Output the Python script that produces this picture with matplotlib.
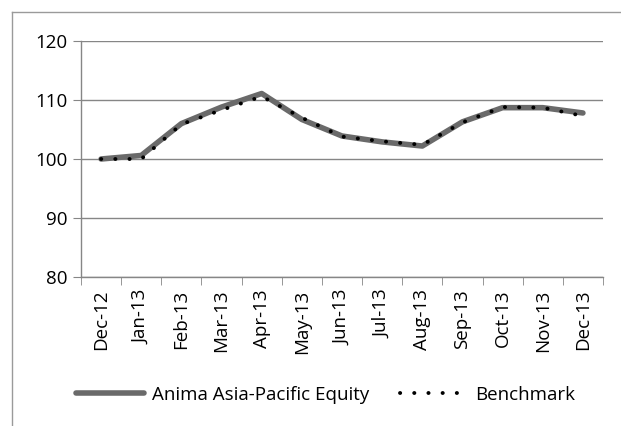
import numpy as np
import matplotlib
matplotlib.use('Agg')
from matplotlib import pyplot as plt
from matplotlib.lines import Line2D

months = ['Dec-12', 'Jan-13', 'Feb-13', 'Mar-13', 'Apr-13', 'May-13', 'Jun-13',
          'Jul-13', 'Aug-13', 'Sep-13', 'Oct-13', 'Nov-13', 'Dec-13']
fund = [100.0, 100.6, 106.0, 108.8, 111.1, 106.7, 103.9,
        102.9, 102.2, 106.3, 108.7, 108.7, 107.8]
benchmark = [100.0, 100.0, 105.9, 108.3, 110.6, 107.0, 103.8,
             103.0, 102.4, 106.2, 108.8, 108.7, 107.3]

plt.rcParams['font.family'] = ['Open Sans', 'DejaVu Sans']

fig = plt.figure(figsize=(6.21, 4.26), dpi=100)
ax = fig.add_axes([81 / 621, 1 - 277 / 426, 522 / 621, 236 / 426])

x = np.arange(len(months))
ax.plot(x, fund, color='#6a6a6a', linewidth=4, solid_capstyle='round',
        label='Anima Asia-Pacific Equity')
ax.plot(x, benchmark, color='black', linewidth=2.8, linestyle=(0, (0.05, 3.6)),
        dash_capstyle='round', label='Benchmark')

ax.set_ylim(80, 120)
ax.set_yticks([80, 90, 100, 110, 120])
ax.set_xlim(-0.5, len(months) - 0.5)
ax.set_xticks(x)
ax.set_xticklabels(months, rotation=90, fontsize=13.5)
ax.set_xticks(np.arange(-0.5, len(months)), minor=True)
ax.tick_params(axis='x', which='major', length=0, pad=9)
ax.tick_params(axis='x', which='minor', length=6, color='#868686')
ax.tick_params(axis='y', length=6, color='#868686', labelsize=13.5, pad=4)
ax.grid(axis='y', color='#868686', linewidth=1)
ax.set_axisbelow(True)
for s in ['top', 'right']:
    ax.spines[s].set_visible(False)
for s in ['left', 'bottom']:
    ax.spines[s].set_color('#868686')
    ax.spines[s].set_linewidth(1)

fig.legend(loc='center', bbox_to_anchor=(326 / 621, 1 - 395 / 426), ncol=2, frameon=False,
           fontsize=13.5, handlelength=3.6, columnspacing=1.6, handletextpad=0.45)

# chart border (Excel style), cut off on right and bottom
fig.add_artist(Line2D([12 / 621, 1], [1 - 12 / 426] * 2, transform=fig.transFigure,
                      color='#9a9a9a', linewidth=1))
fig.add_artist(Line2D([12 / 621] * 2, [0, 1 - 12 / 426], transform=fig.transFigure,
                      color='#9a9a9a', linewidth=1))

fig.savefig('out.png', dpi=100)
